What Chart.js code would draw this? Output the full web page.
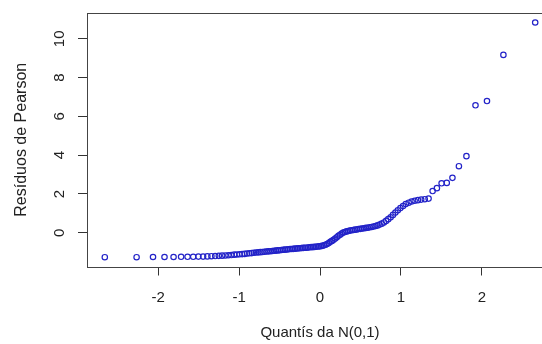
<!DOCTYPE html>
<html>
<head>
<meta charset="utf-8">
<script src="https://cdn.jsdelivr.net/npm/chart.js@4"></script>
<style>
  html, body { margin: 0; padding: 0; background: #fff; overflow: hidden; width: 542px; height: 344px; }
  #wrap { position: absolute; left: 0; top: 0; width: 570px; height: 344px; }
</style>
</head>
<body>
<div id="wrap"><canvas id="c" width="570" height="344"></canvas></div>
<script>
// Theoretical normal quantiles (x) and sorted Pearson residuals (y)
const quantiles = [
  -2.660, -2.267, -2.064, -1.922, -1.810, -1.717, -1.637, -1.567, -1.503, -1.445,
  -1.392, -1.342, -1.295, -1.251, -1.210, -1.170, -1.132, -1.096, -1.060, -1.027,
  -0.994, -0.962, -0.932, -0.902, -0.873, -0.844, -0.817, -0.790, -0.763, -0.737,
  -0.712, -0.687, -0.662, -0.638, -0.614, -0.590, -0.567, -0.544, -0.522, -0.500,
  -0.477, -0.455, -0.434, -0.412, -0.391, -0.370, -0.349, -0.329, -0.308, -0.288,
  -0.268, -0.248, -0.228, -0.208, -0.188, -0.168, -0.148, -0.128, -0.108, -0.088,
  -0.068, -0.049, -0.029, -0.010,
   0.010,  0.029,  0.049,  0.068,  0.088,  0.108,  0.128,  0.148,  0.168,  0.188,
   0.208,  0.228,  0.248,  0.268,  0.288,  0.308,  0.329,  0.349,  0.370,  0.391,
   0.412,  0.434,  0.455,  0.477,  0.500,  0.522,  0.544,  0.567,  0.590,  0.614,
   0.638,  0.662,  0.687,  0.712,  0.737,  0.763,  0.790,  0.817,  0.844,  0.873,
   0.902,  0.932,  0.962,  0.994,  1.027,  1.060,  1.096,  1.132,  1.170,  1.210,
   1.251,  1.295,  1.342,  1.392,  1.445,  1.503,  1.567,  1.637,  1.717,  1.810,
   1.922,  2.064,  2.267,  2.660
];
const residuals = [
  -1.26, -1.26, -1.25, -1.25, -1.25, -1.24, -1.24, -1.24, -1.23, -1.23,
  -1.22, -1.21, -1.20, -1.19, -1.18, -1.17, -1.16, -1.15, -1.13, -1.12,
  -1.11, -1.10, -1.09, -1.07, -1.06, -1.05, -1.03, -1.02, -1.01, -1.00,
  -0.99, -0.98, -0.97, -0.96, -0.95, -0.94, -0.93, -0.92, -0.91, -0.90,
  -0.89, -0.88, -0.87, -0.86, -0.85, -0.84, -0.84, -0.83, -0.82, -0.81,
  -0.80, -0.80, -0.79, -0.78, -0.77, -0.77, -0.76, -0.75, -0.74, -0.74,
  -0.73, -0.72, -0.71, -0.70,
  -0.69, -0.67, -0.65, -0.62, -0.58, -0.53, -0.47, -0.42, -0.36, -0.30,
  -0.23, -0.16, -0.10, -0.04,  0.01,  0.04,  0.07,  0.09,  0.11,  0.13,
   0.14,  0.16,  0.17,  0.19,  0.20,  0.22,  0.23,  0.25,  0.26,  0.28,
   0.30,  0.32,  0.35,  0.38,  0.42,  0.47,  0.53,  0.61,  0.70,  0.80,
   0.92,  1.04,  1.16,  1.27,  1.38,  1.48,  1.55,  1.61,  1.65,  1.68,
   1.71,  1.73,  1.76,  2.15,  2.30,  2.55,  2.57,  2.83,  3.43,  3.95,
   6.57,  6.79,  9.17, 10.84
];
const xTicks = [-2, -1, 0, 1, 2];
const yTicks = [0, 2, 4, 6, 8, 10];
const xTitle = 'Quantís da N(0,1)';
const yTitle = 'Resíduos de Pearson';

const points = quantiles.map((q, i) => ({ x: q, y: residuals[i] }));

const FONT = 'Liberation Sans, Arial, sans-serif';
const TEXT = '#222';

const boxPlugin = {
  id: 'rbox',
  afterDraw(chart) {
    const a = chart.chartArea, ctx = chart.ctx;
    ctx.save();
    ctx.strokeStyle = '#444';
    ctx.lineWidth = 1;
    ctx.strokeRect(Math.round(a.left) + 0.5, Math.round(a.top) + 0.5,
                   Math.round(a.right - a.left), Math.round(a.bottom - a.top));
    ctx.restore();
  }
};

new Chart(document.getElementById('c'), {
  type: 'scatter',
  data: {
    datasets: [{
      data: points,
      pointStyle: 'circle',
      pointRadius: 2.7,
      pointHoverRadius: 2.7,
      pointBorderWidth: 1.2,
      borderColor: 'rgb(35,35,200)',
      backgroundColor: 'rgba(0,0,0,0)',
      showLine: false
    }]
  },
  options: {
    responsive: false,
    devicePixelRatio: 1,
    animation: false,
    events: [],
    layout: { autoPadding: false, padding: { left: 0, top: 13, right: 17, bottom: 0 } },
    plugins: { legend: { display: false }, tooltip: { enabled: false } },
    scales: {
      x: {
        type: 'linear',
        min: -2.88, max: 2.88,
        afterBuildTicks: s => { s.ticks = xTicks.map(v => ({ value: v })); },
        afterFit: s => { s.height = 77.5; s.paddingLeft = 0; s.paddingRight = 0; },
        border: { display: false },
        grid: { drawOnChartArea: false, drawTicks: true, tickLength: 9, color: '#333', lineWidth: 1 },
        ticks: { color: TEXT, font: { family: FONT, size: 15 }, padding: 13, autoSkip: false, maxRotation: 0, minRotation: 0 },
        title: { display: true, text: xTitle, color: TEXT, font: { family: FONT, size: 15 }, padding: { top: 0, bottom: 2 } }
      },
      y: {
        type: 'linear',
        min: -1.74, max: 11.33,
        afterBuildTicks: s => { s.ticks = yTicks.map(v => ({ value: v })); },
        afterFit: s => { s.width = 87; s.paddingTop = 0; s.paddingBottom = 0; },
        border: { display: false },
        grid: { drawOnChartArea: false, drawTicks: true, tickLength: 9, color: '#333', lineWidth: 1 },
        ticks: { color: TEXT, font: { family: FONT, size: 15 }, padding: 10, autoSkip: false, minRotation: 90, maxRotation: 90, crossAlign: 'center' },
        title: { display: true, text: yTitle, color: TEXT, font: { family: FONT, size: 16 }, padding: { top: 12, bottom: 0 } }
      }
    }
  },
  plugins: [boxPlugin]
});
</script>
</body>
</html>
